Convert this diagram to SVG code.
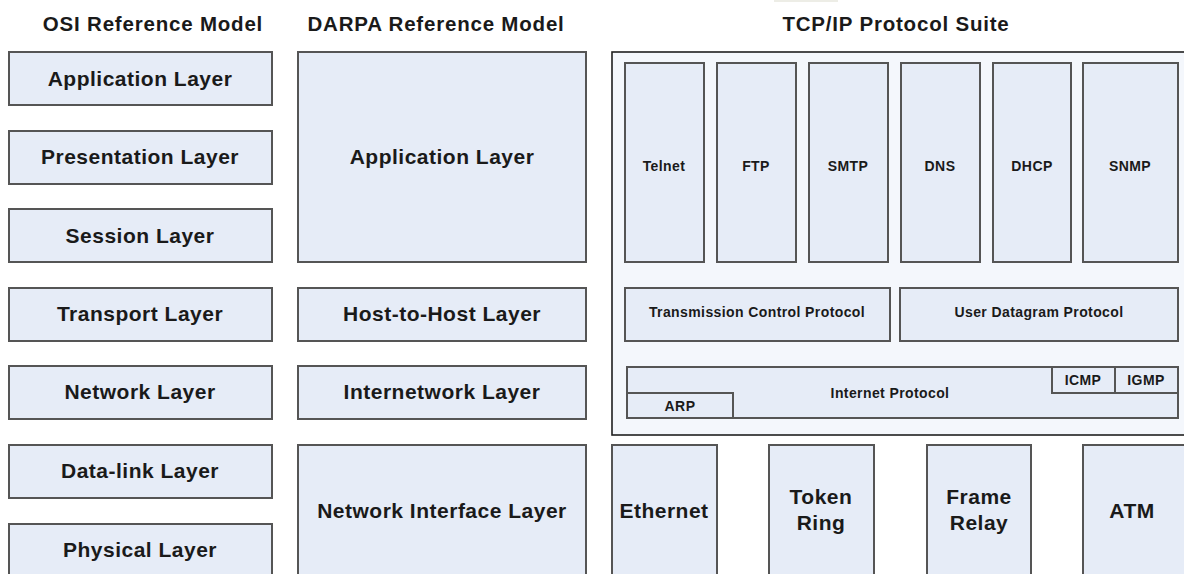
<svg xmlns="http://www.w3.org/2000/svg" width="1184" height="574" viewBox="0 0 1184 574">
<style>
.box{fill:#E6ECF7;stroke:#555555;stroke-width:2}
.suite{fill:#F4F7FC;stroke:#202020;stroke-width:1.6}
.t{font-family:"Liberation Sans",Arial,sans-serif;font-weight:bold;fill:#1a1a1a;text-anchor:middle}
.h{font-size:20.5px;letter-spacing:0.8px}
.l{font-size:21px;letter-spacing:0.5px}
.s{font-size:14px;letter-spacing:0.4px}
</style>
<rect x="0" y="0" width="1184" height="574" fill="#ffffff"/>
<rect x="774" y="0" width="64" height="2" fill="#EDEDE6"/>
<g id="titles">
<text class="t h" x="153" y="31">OSI Reference Model</text>
<text class="t h" x="436" y="31">DARPA Reference Model</text>
<text class="t h" x="896" y="31">TCP/IP Protocol Suite</text>
</g>
<g id="osi-application"><rect class="box" x="9" y="52" width="263" height="53"/><text class="t l" x="140" y="86">Application Layer</text></g>
<g id="osi-presentation"><rect class="box" x="9" y="131" width="263" height="53"/><text class="t l" x="140" y="164">Presentation Layer</text></g>
<g id="osi-session"><rect class="box" x="9" y="209" width="263" height="53"/><text class="t l" x="140" y="243">Session Layer</text></g>
<g id="osi-transport"><rect class="box" x="9" y="288" width="263" height="53"/><text class="t l" x="140" y="321">Transport Layer</text></g>
<g id="osi-network"><rect class="box" x="9" y="366" width="263" height="53"/><text class="t l" x="140" y="399">Network Layer</text></g>
<g id="osi-datalink"><rect class="box" x="9" y="445" width="263" height="53"/><text class="t l" x="140" y="478">Data-link Layer</text></g>
<g id="osi-physical"><rect class="box" x="9" y="524" width="263" height="60"/><text class="t l" x="140" y="557">Physical Layer</text></g>
<g id="darpa-application"><rect class="box" x="298" y="52" width="288" height="210"/><text class="t l" x="442" y="164">Application Layer</text></g>
<g id="darpa-host"><rect class="box" x="298" y="288" width="288" height="53"/><text class="t l" x="442" y="321">Host-to-Host Layer</text></g>
<g id="darpa-internetwork"><rect class="box" x="298" y="366" width="288" height="53"/><text class="t l" x="442" y="399">Internetwork Layer</text></g>
<g id="darpa-netif"><rect class="box" x="298" y="445" width="288" height="140"/><text class="t l" x="442" y="518">Network Interface Layer</text></g>
<g id="tcpip-suite">
<rect class="suite" x="612" y="52" width="580" height="383"/>
</g>
<g id="telnet"><rect class="box" x="625" y="63" width="79" height="199"/><text class="t s" x="664" y="171">Telnet</text></g>
<g id="ftp"><rect class="box" x="717" y="63" width="79" height="199"/><text class="t s" x="756" y="171">FTP</text></g>
<g id="smtp"><rect class="box" x="809" y="63" width="79" height="199"/><text class="t s" x="848" y="171">SMTP</text></g>
<g id="dns"><rect class="box" x="901" y="63" width="79" height="199"/><text class="t s" x="940" y="171">DNS</text></g>
<g id="dhcp"><rect class="box" x="993" y="63" width="78" height="199"/><text class="t s" x="1032" y="171">DHCP</text></g>
<g id="snmp"><rect class="box" x="1083" y="63" width="95" height="199"/><text class="t s" x="1130" y="171">SNMP</text></g>
<g id="tcp"><rect class="box" x="625" y="288" width="265" height="53"/><text class="t s" x="757" y="317">Transmission Control Protocol</text></g>
<g id="udp"><rect class="box" x="900" y="288" width="278" height="53"/><text class="t s" x="1039" y="317">User Datagram Protocol</text></g>
<g id="ip"><rect class="box" x="627" y="367" width="551" height="51"/><text class="t s" x="890" y="398">Internet Protocol</text></g>
<g id="arp"><rect class="box" x="627" y="393" width="106" height="25"/><text class="t s" x="680" y="411">ARP</text></g>
<g id="icmp"><rect class="box" x="1052" y="367" width="63" height="26"/><text class="t s" x="1083" y="385">ICMP</text></g>
<g id="igmp"><rect class="box" x="1115" y="367" width="63" height="26"/><text class="t s" x="1146" y="385">IGMP</text></g>
<g id="ethernet"><rect class="box" x="612" y="445" width="105" height="140"/><text class="t l" x="664" y="518">Ethernet</text></g>
<g id="tokenring"><rect class="box" x="769" y="445" width="105" height="140"/><text class="t l" x="821" y="504">Token</text><text class="t l" x="821" y="530">Ring</text></g>
<g id="framerelay"><rect class="box" x="927" y="445" width="104" height="140"/><text class="t l" x="979" y="504">Frame</text><text class="t l" x="979" y="530">Relay</text></g>
<g id="atm"><rect class="box" x="1083" y="445" width="110" height="140"/><text class="t l" x="1132" y="518">ATM</text></g>
<g id="connectors"></g>
</svg>
